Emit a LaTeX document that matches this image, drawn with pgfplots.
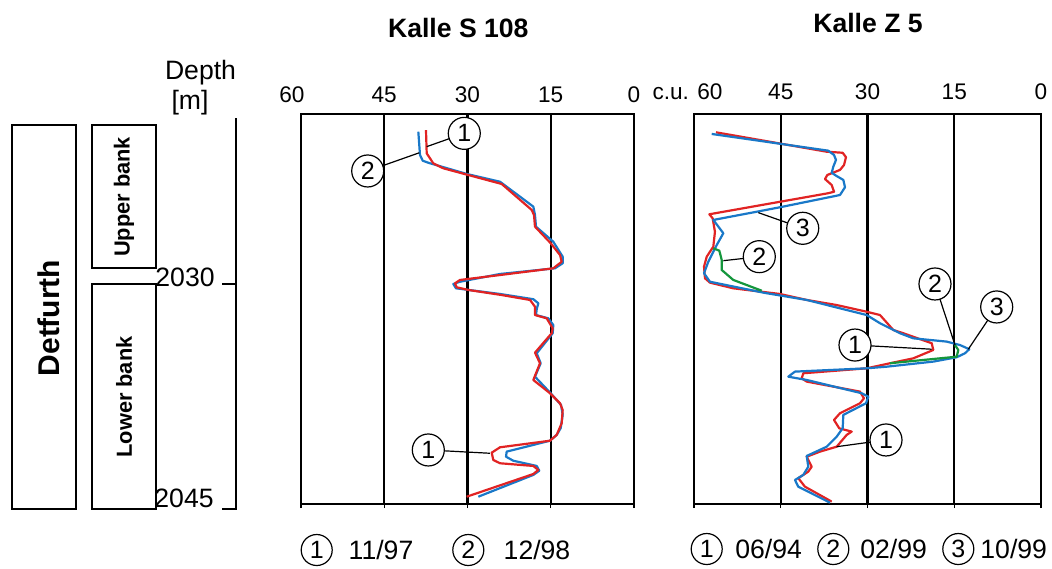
\documentclass[border=0pt]{standalone}
\usepackage{fontspec}
\setmainfont{Liberation Sans}
\usepackage{pgfplots}
\pgfplotsset{compat=1.18}
\newcommand\fs[1]{\fontsize{#1}{#1}\selectfont}
\definecolor{cred}{RGB}{225,35,35}
\definecolor{cblue}{RGB}{25,120,200}
\definecolor{cgreen}{RGB}{20,150,60}
\tikzset{cnum/.style={circle,draw=black,line width=0.6pt,fill=white,inner sep=0pt,minimum size=16pt,font=\fs{12.5}},
 lnum/.style={circle,draw=black,line width=0.6pt,fill=white,inner sep=0pt,minimum size=15.5pt,font=\fs{12.5}}}
\pgfplotsset{panel/.style={
 anchor=south west, scale only axis, height=195.25pt,
 xmin=0,xmax=60, x dir=reverse,
 ymin=2018.58, ymax=2044.74, y dir=reverse,
 xtick={0,15,30,45,60},
 xtick pos=lower, xticklabel pos=upper,
 ytick=\empty,
 tick align=outside, major tick length=2pt,
 xmajorgrids, grid style={black,line width=1.1pt},
 axis line style={line width=1pt},
 tick style={black,line width=0.6pt},
 /pgf/number format/assume math mode=true,
 clip=false,
 every axis plot/.append style={line width=1.1pt, line join=round, no marks}
}}
\begin{document}
\begin{tikzpicture}[x=0.5pt,y=-0.5pt]
\useasboundingbox (0,0) rectangle (1052,568);
% left stratigraphy
\draw[line width=0.8pt] (12,125) rectangle (76,509);
\draw[line width=0.8pt] (92,125) rectangle (156,268);
\draw[line width=0.8pt] (92,284) rectangle (156,509);
\node[rotate=90,font=\bfseries\fs{15}] at (49,318) {Detfurth};
\node[rotate=90,font=\bfseries\fs{10.9}] at (124,197) {Upper bank};
\node[rotate=90,font=\bfseries\fs{10.9}] at (124,397) {Lower bank};
\draw[line width=0.8pt] (236,118) -- (236,509) -- (222,509);
\draw[line width=0.8pt] (222,284) -- (236,284);
\node[font=\fs{13.3}] at (200.5,72.7) {Depth};
\node[font=\fs{13.3}] at (190,103) {[m]};
\node[font=\fs{13.3},anchor=east,inner sep=0pt] at (215,277) {2030};
\node[font=\fs{13.3},anchor=east,inner sep=0pt] at (214,498) {2045};
% titles
\node[font=\bfseries\fs{13.3}] at (458.3,28.3) {Kalle S 108};
\node[font=\bfseries\fs{13.3}] at (868,23.3) {Kalle Z 5};

\begin{axis}[panel, at={(150.5pt,-252pt)}, width=166.5pt,
 xticklabels={0,15,30,45,{\makebox[0pt]{\hspace*{-9pt}60}}},
 xticklabel style={font=\fs{11.3}, yshift=-0.3pt}]
\addplot[cblue] coordinates {
(38.86,2019.80)(38.56,2021.36)(38.07,2021.74)(37.06,2021.88)(30.14,2022.63)(24.14,2023.15)
(18.14,2024.82)(17.84,2025.38)(17.66,2026.16)(14.54,2027.17)(12.85,2028.17)(12.85,2028.61)
(14.23,2028.95)(24.14,2029.33)(31.35,2029.85)(32.56,2030.00)(32.07,2030.29)(24.14,2030.67)
(18.14,2031.02)(17.24,2031.29)(17.53,2031.69)(17.66,2032.08)(15.44,2032.30)(14.54,2032.75)
(14.65,2033.30)(17.53,2034.64)(16.81,2035.31)(17.84,2036.21)(15.01,2037.32)(13.15,2038.10)
(12.85,2038.77)(13.21,2039.66)(13.93,2040.11)(15.14,2040.50)(22.94,2041.23)(23.06,2041.57)
(21.75,2041.84)(17.53,2042.19)(17.06,2042.51)(18.14,2042.79)(28.05,2044.25)};
\addplot[cred] coordinates {
(37.48,2019.69)(37.35,2021.25)(36.16,2021.92)(34.36,2022.25)(29.86,2022.70)(23.84,2023.30)
(18.43,2025.04)(18.02,2025.38)(17.84,2026.16)(15.01,2027.27)(13.33,2028.06)(13.03,2028.51)
(14.54,2028.95)(24.14,2029.40)(31.35,2029.73)(32.25,2029.95)(31.95,2030.22)(29.86,2030.40)
(23.84,2030.74)(18.74,2031.07)(17.84,2031.52)(17.84,2032.08)(15.73,2032.30)(14.65,2032.97)
(14.83,2033.30)(17.84,2034.60)(16.94,2035.31)(18.14,2036.43)(15.14,2037.32)(13.33,2037.99)
(12.85,2038.44)(13.03,2039.33)(13.93,2040.11)(15.14,2040.50)(24.14,2040.94)(25.64,2041.30)
(25.35,2041.79)(24.14,2042.01)(18.14,2042.19)(17.24,2042.46)(18.14,2042.73)(30.14,2044.25)};
\draw[line width=0.6pt] (axis cs:30.58,2019.91) -- (axis cs:37.35,2020.80);
\node[cnum] at (axis cs:30.58,2019.91) {1};
\draw[line width=0.6pt] (axis cs:47.98,2022.43) -- (axis cs:38.68,2021.21);
\node[cnum] at (axis cs:47.98,2022.43) {2};
\draw[line width=0.6pt] (axis cs:37.06,2041.12) -- (axis cs:25.95,2041.34);
\node[cnum] at (axis cs:37.06,2041.12) {1};
\end{axis}

\begin{axis}[panel, at={(347pt,-252pt)}, width=173.5pt,
 xticklabels={0,15,30,45,{\makebox[0pt]{\hspace*{-6.5pt}c.u. 60}}},
 xticklabel style={font=\fs{11.3}, yshift=1.5pt}]
\addplot[cred] coordinates {
(56.20,2019.84)(37.05,2021.14)(34.29,2021.21)(33.72,2021.51)(34.06,2022.03)(34.76,2022.36)
(36.95,2022.70)(37.35,2022.97)(36.19,2023.37)(35.79,2023.82)(36.78,2023.92)(57.35,2025.33)
(56.77,2025.60)(56.38,2026.50)(56.66,2027.50)(57.80,2028.17)(58.27,2028.84)(58.10,2029.62)
(57.24,2029.91)(53.21,2030.29)(45.13,2030.67)(40.51,2031.07)(35.33,2031.41)(30.14,2031.86)
(27.84,2032.08)(25.54,2033.08)(23.81,2033.30)(18.90,2033.97)(18.62,2034.42)(22.08,2034.98)
(26.11,2035.31)(30.14,2035.65)(41.10,2035.98)(41.38,2036.32)(40.51,2036.54)(31.30,2037.21)
(30.61,2037.66)(31.30,2037.99)(34.76,2038.66)(35.79,2039.11)(34.88,2039.67)(32.73,2039.89)
(33.60,2040.11)(35.33,2040.90)(38.21,2041.23)(40.51,2041.57)(39.65,2042.24)(40.24,2042.57)
(41.97,2043.01)(40.81,2043.58)(36.19,2044.58)};
\addplot[cblue] coordinates {
(56.94,2019.95)(36.78,2021.07)(35.79,2021.36)(35.45,2021.69)(35.91,2022.14)(36.19,2022.55)
(35.33,2022.77)(34.18,2023.03)(33.89,2023.52)(34.76,2024.04)(45.13,2024.86)(49.16,2025.16)
(56.66,2025.71)(54.93,2026.60)(56.07,2027.39)(57.53,2028.51)(58.27,2029.28)(57.24,2029.85)
(48.02,2030.58)(40.51,2031.07)(30.14,2032.08)(27.84,2032.63)(24.38,2033.30)(22.08,2033.64)
(16.31,2033.86)(14.01,2034.09)(12.40,2034.37)(13.14,2034.64)(14.58,2034.91)(18.62,2035.20)
(26.68,2035.54)(30.14,2035.65)(42.54,2035.87)(43.70,2036.21)(40.51,2036.43)(31.00,2037.32)
(29.86,2037.55)(30.26,2037.99)(34.18,2038.77)(34.29,2039.66)(35.33,2040.23)(37.05,2040.90)
(40.51,2041.52)(40.24,2042.24)(41.10,2042.79)(42.54,2043.13)(41.97,2043.58)(36.48,2044.65)};
\addplot[cgreen] coordinates {
(56.66,2027.61)(55.62,2027.77)(55.21,2028.39)(55.21,2029.06)(53.21,2029.73)(48.29,2030.45)};
\addplot[cgreen] coordinates {
(14.87,2034.09)(14.30,2034.42)(14.58,2034.87)(26.11,2035.31)};
\draw[line width=0.6pt] (axis cs:41.20,2026.27) -- (axis cs:48.88,2025.22);
\node[cnum] at (axis cs:41.20,2026.27) {3};
\draw[line width=0.6pt] (axis cs:48.71,2028.17) -- (axis cs:54.93,2028.44);
\node[cnum] at (axis cs:48.71,2028.17) {2};
\draw[line width=0.6pt] (axis cs:18.33,2030.0) -- (axis cs:14.87,2034.09);
\node[cnum] at (axis cs:18.33,2030.0) {2};
\draw[line width=0.6pt] (axis cs:7.66,2031.54) -- (axis cs:12.57,2034.37);
\node[cnum] at (axis cs:7.66,2031.54) {3};
\draw[line width=0.6pt] (axis cs:32.16,2034.09) -- (axis cs:18.90,2034.37);
\node[cnum] at (axis cs:32.16,2034.09) {1};
\draw[line width=0.6pt] (axis cs:26.80,2040.45) -- (axis cs:35.33,2040.90);
\node[cnum] at (axis cs:26.80,2040.45) {1};
\end{axis}

% legends
\node[lnum] at (316.7,550) {1};
\node[font=\fs{13.3},anchor=west,inner sep=0pt] at (348.3,550) {11/97};
\node[lnum] at (468.3,550) {2};
\node[font=\fs{13.3},anchor=west,inner sep=0pt] at (503.3,550) {12/98};
\node[lnum] at (706.7,549) {1};
\node[font=\fs{13.3},anchor=west,inner sep=0pt] at (735,549) {06/94};
\node[lnum] at (833.3,549) {2};
\node[font=\fs{13.3},anchor=west,inner sep=0pt] at (860,549) {02/99};
\node[lnum] at (958.3,549) {3};
\node[font=\fs{13.3},anchor=west,inner sep=0pt] at (980,549) {10/99};
\end{tikzpicture}
\end{document}
